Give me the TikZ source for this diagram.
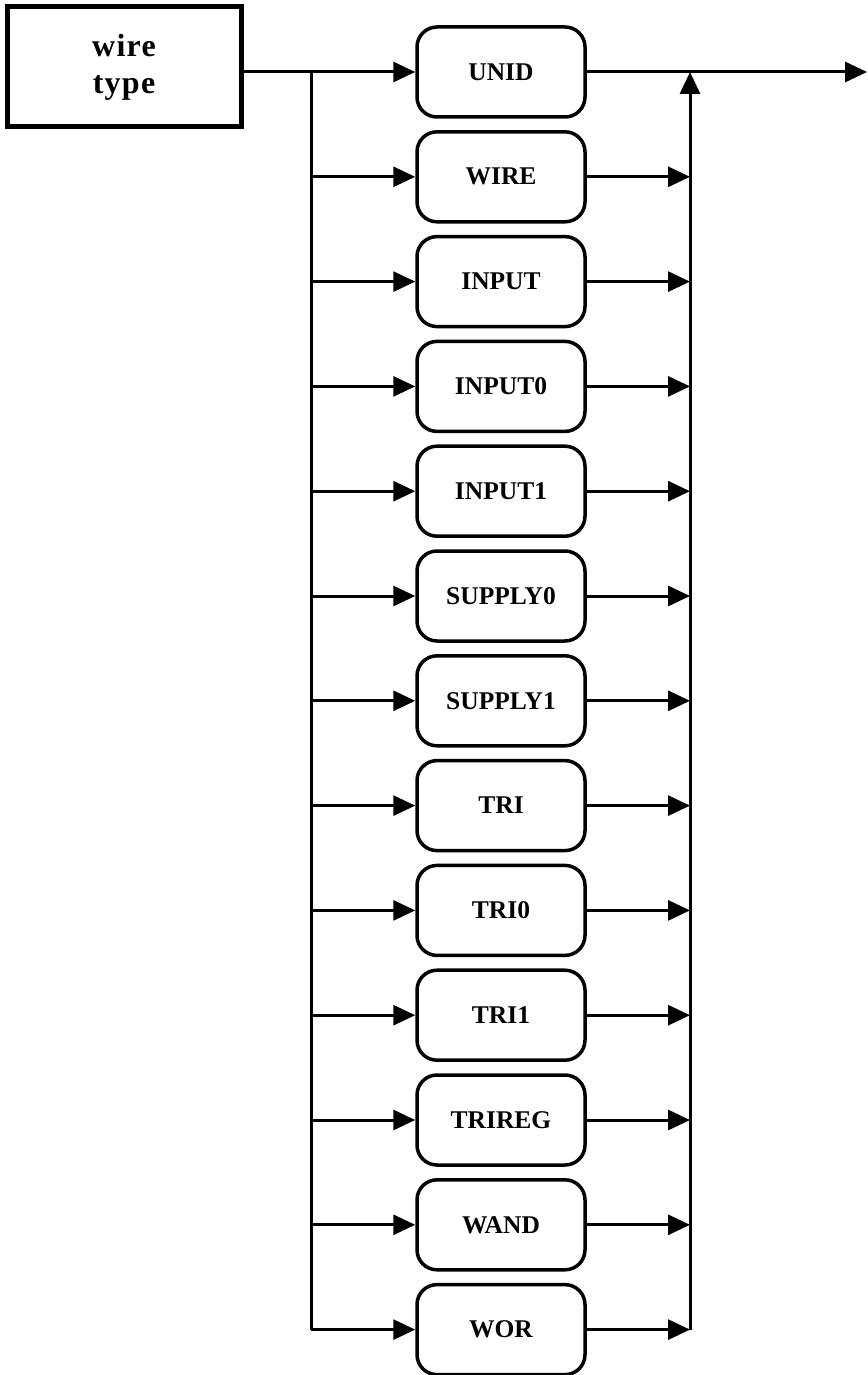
\documentclass[tikz,border=0pt]{standalone}
\usepackage{fontspec}
\setmainfont{Liberation Serif}
\usetikzlibrary{arrows.meta}
\begin{document}
\begin{tikzpicture}[x=1pt,y=-1pt,
  conn/.style={line width=3pt},
  arr/.style={conn,-{Triangle[length=22pt,width=20pt]}},
  kw/.style={draw,line width=3.5pt,rounded corners=20pt,minimum width=168pt,minimum height=90pt,inner sep=0pt,font=\fontsize{25.5}{28}\selectfont\bfseries},
  head/.style={draw,line width=5pt,minimum width=234pt,minimum height=120pt,inner sep=0pt,align=center,font=\fontsize{32}{37}\selectfont\bfseries\addfontfeature{LetterSpace=4}}
]
\useasboundingbox (0,0) rectangle (867,1375);
\node[head] (wt) at (124,67) {wire\\type};
\foreach \i/\t in {1/UNID,2/WIRE,3/INPUT,4/INPUT0,5/INPUT1,6/SUPPLY0,7/SUPPLY1,8/TRI,9/TRI0,10/TRI1,11/TRIREG,12/WAND,13/WOR}{
  \node[kw] (r\i) at (501,{72+104.8*(\i-1)}) {\t};
}
\coordinate (lb) at (311,72);
\coordinate (rb) at (690,72);
\coordinate (out) at (867,72);
% input side
\draw[arr] (wt.east |- r1) -- (r1.west);
\draw[conn] (lb) -- (lb |- r13);
\foreach \i in {2,...,13}{
  \draw[arr] (lb |- r\i) -- (r\i.west);
}
% output side
\draw[arr] (r1.east) -- (out);
\foreach \i in {2,...,13}{
  \draw[arr] (r\i.east) -- (rb |- r\i);
}
\draw[arr] (rb |- r13) -- (rb);
\end{tikzpicture}
\end{document}
